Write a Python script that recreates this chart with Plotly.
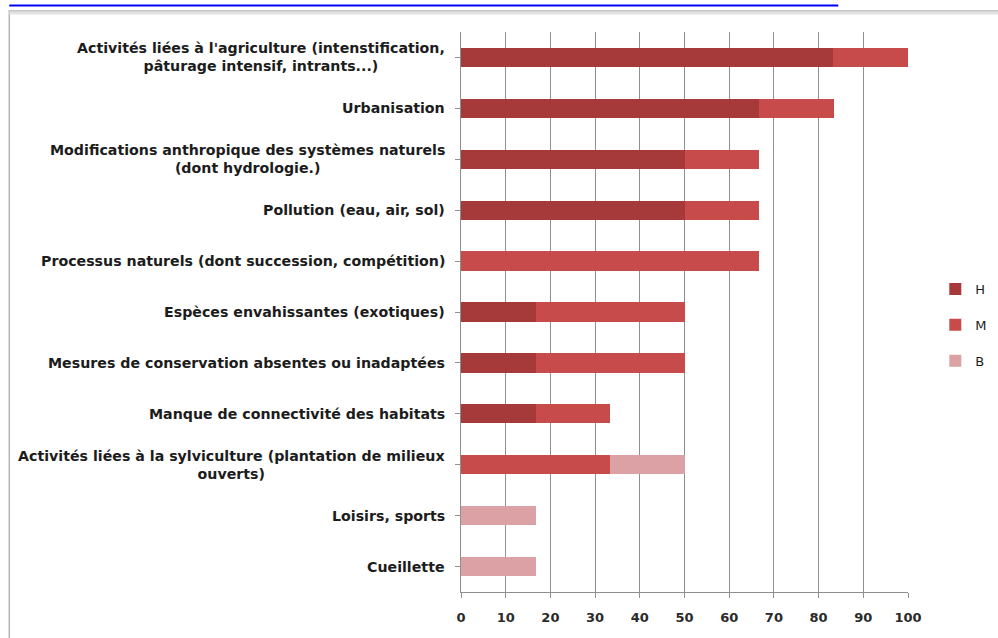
import plotly.graph_objects as go

categories = [
    "Activités liées à l'agriculture (intenstification,<br>pâturage intensif, intrants...)",
    "Urbanisation",
    "Modifications anthropique des systèmes naturels<br>(dont hydrologie.)",
    "Pollution (eau, air, sol)",
    "Processus naturels (dont succession, compétition)",
    "Espèces envahissantes (exotiques)",
    "Mesures de conservation absentes ou inadaptées",
    "Manque de connectivité des habitats",
    "Activités liées à la sylviculture (plantation de milieux<br>ouverts)",
    "Loisirs, sports",
    "Cueillette",
]
H = [83.3, 66.7, 50.0, 50.0, 0, 16.7, 16.7, 16.7, 0, 0, 0]
M = [16.7, 16.7, 16.7, 16.7, 66.7, 33.3, 33.3, 16.7, 33.3, 0, 0]
B = [0, 0, 0, 0, 0, 0, 0, 0, 16.7, 16.7, 16.7]
series_names = ["H", "M", "B"]
x_ticks = [0, 10, 20, 30, 40, 50, 60, 70, 80, 90, 100]

colors = {"H": "#A63A3A", "M": "#C84B4B", "B": "#DCA1A5"}
FONT = "DejaVu Sans, sans-serif"

fig = go.Figure()
for i, (name, vals) in enumerate(zip(series_names, [H, M, B])):
    fig.add_trace(go.Bar(
        y=list(range(len(categories))), x=vals, name=name, orientation="h",
        marker=dict(color=colors[name], line=dict(width=0)),
        width=0.38, legendgroup=name,
    ))

# category labels as annotations (centered multi-line)
for i, c in enumerate(categories):
    fig.add_annotation(
        x=0, xref="paper", xshift=-14, y=i, yref="y", text="<b>" + c + "</b>",
        xanchor="right", yanchor="middle", align="center", showarrow=False,
        font=dict(family=FONT, size=14.2, color="#1c1c1c"),
    )

L, R, T, Bm = 460.7, 90.3, 32, 46
W, Hh = 998, 638
pw = W - L - R
ph = Hh - T - Bm

def px2x(px):
    return (px - L) / pw

def py2y(py):
    return (Hh - Bm - py) / ph

shapes = [
    # outer frame
    dict(type="rect", xref="paper", yref="paper",
         x0=px2x(9), x1=px2x(1010), y0=py2y(650), y1=py2y(11),
         line=dict(color="#b5b5b5", width=1.5), fillcolor="rgba(0,0,0,0)", layer="below"),
    dict(type="line", xref="paper", yref="paper",
         x0=px2x(9), x1=px2x(1010), y0=py2y(13), y1=py2y(13),
         line=dict(color="#e2e2e2", width=3), layer="below"),
    # link underline
    dict(type="line", xref="paper", yref="paper",
         x0=px2x(9), x1=px2x(838), y0=py2y(5.5), y1=py2y(5.5),
         line=dict(color="#0000ff", width=2)),
]

fig.update_layout(
    width=W, height=Hh,
    margin=dict(l=L, r=R, t=T, b=Bm, autoexpand=False),
    paper_bgcolor="white", plot_bgcolor="white",
    barmode="stack",
    bargap=0.62,
    shapes=shapes,
    showlegend=True,
    legend=dict(
        x=px2x(935), y=py2y(325), xanchor="left", yanchor="middle",
        traceorder="grouped", tracegroupgap=16,
        font=dict(family=FONT, size=13, color="#1c1c1c"),
        itemwidth=30, bgcolor="rgba(0,0,0,0)",
    ),
    xaxis=dict(
        range=[0, 100], tickvals=x_ticks, ticktext=["<b>%d</b>" % v for v in x_ticks],
        showgrid=True, gridcolor="#8f8f8f", gridwidth=1,
        showline=True, linecolor="#8f8f8f", linewidth=1,
        ticks="outside", ticklen=5, tickcolor="#8f8f8f",
        ticklabelstandoff=8,
        tickfont=dict(family=FONT, size=13, color="#2a2a2a"),
        zeroline=False, fixedrange=True,
    ),
    yaxis=dict(
        tickvals=list(range(len(categories))), showticklabels=False,
        autorange=False, range=[len(categories) - 0.5, -0.5],
        showline=True, linecolor="#8f8f8f", linewidth=1,
        ticks="outside", ticklen=5, tickcolor="#8f8f8f", tickson="boundaries",
        type="linear", showgrid=False, zeroline=False, fixedrange=True,
    ),
)

fig.write_html("out.html")
